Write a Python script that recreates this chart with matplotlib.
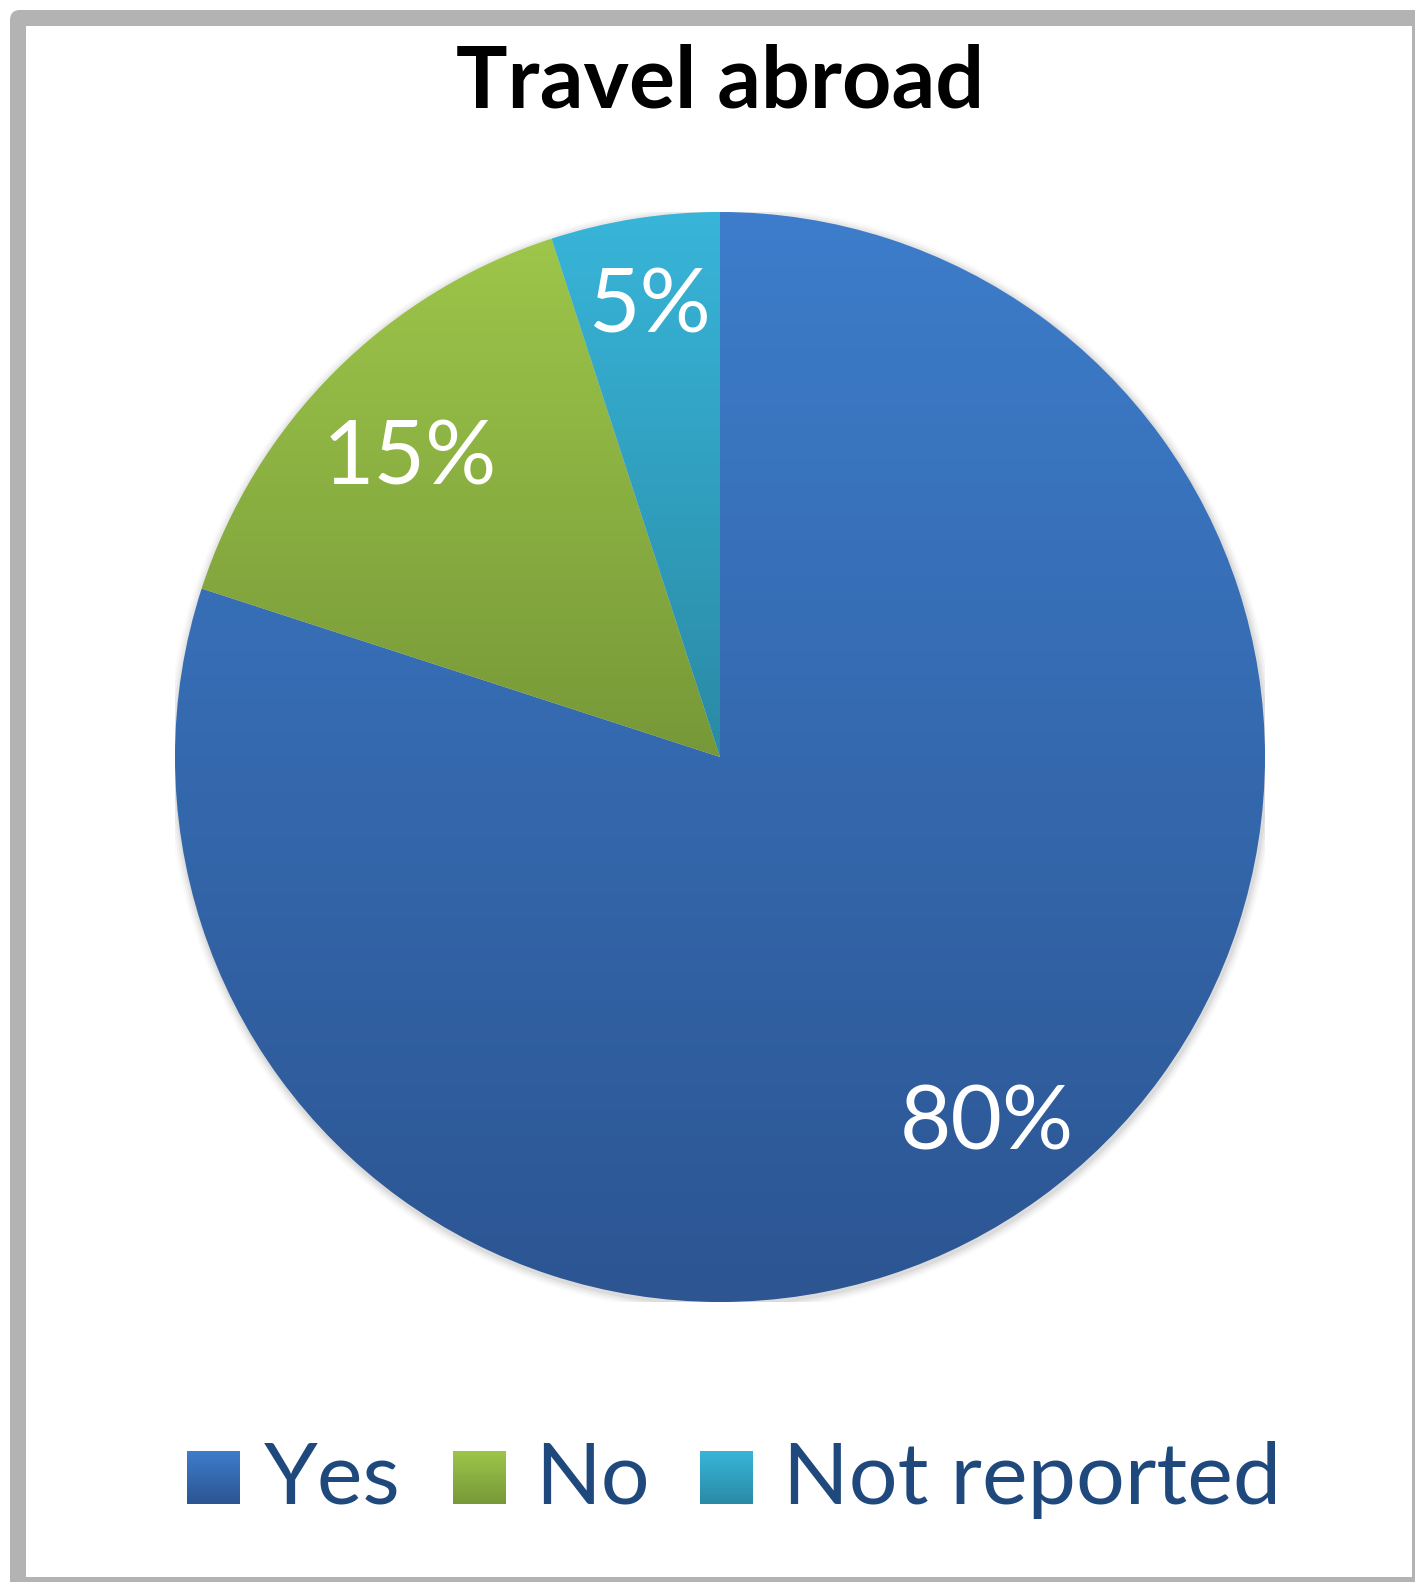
import numpy as np
import matplotlib.pyplot as plt
from matplotlib.colors import LinearSegmentedColormap
from matplotlib.patches import Rectangle, FancyBboxPatch, Circle

title = "Travel abroad"
labels = ["Yes", "No", "Not reported"]
shares = [80, 15, 5]
top_colors = ["#3d7dcb", "#9dc64a", "#38b5d9"]
bottom_colors = ["#2c5592", "#779838", "#2a8aa5"]
text_blue = "#1f497d"

W, H = 1415, 1582
fig = plt.figure(figsize=(W / 100, H / 100), dpi=100)
fig.patch.set_facecolor("white")

# background layer in pixel units (frame + legend)
bg = fig.add_axes([0, 0, 1, 1])
bg.set_xlim(0, W)
bg.set_ylim(H, 0)
bg.axis("off")
bg.add_patch(FancyBboxPatch((10, 10), W + 40, H + 40, boxstyle="round,pad=0,rounding_size=10",
                            facecolor="#b3b3b3", edgecolor="none"))
bg.add_patch(Rectangle((26, 26), W - 3 - 26, H - 5 - 26, facecolor="white", edgecolor="none"))

bg.text(720, 107, title, fontsize=62, fontweight="bold", family="Lato", color="black",
        ha="center", va="baseline")

grad = np.linspace(0, 1, 256).reshape(-1, 1)


def gradient_cmap(i):
    return LinearSegmentedColormap.from_list("g%d" % i, [top_colors[i], bottom_colors[i]])


# legend
box_x = [187, 453, 700]
text_x = [264, 535, 783]
for i, lab in enumerate(labels):
    bg.imshow(grad, cmap=gradient_cmap(i), aspect="auto",
              extent=(box_x[i], box_x[i] + 53, 1504, 1451), zorder=2)
    bg.text(text_x[i], 1504, lab, fontsize=62, family="Lato", color=text_blue,
            ha="left", va="baseline")
bg.set_xlim(0, W)
bg.set_ylim(H, 0)

# pie
cx, cy, r = 720, 757, 545
ax = fig.add_axes([(cx - r) / W, (H - cy - r) / H, 2 * r / W, 2 * r / H])
ax.set_xlim(-1, 1)
ax.set_ylim(-1, 1)
ax.set_aspect("equal")
ax.axis("off")

# soft shadow around the pie
for k, a in enumerate([0.05, 0.04, 0.03, 0.02]):
    ax.add_patch(Circle((0.002, -0.004), 1 + 0.004 * (k + 1), facecolor="black",
                        alpha=a, edgecolor="none", zorder=0))

wedges, _, pcts = ax.pie(shares, startangle=90, counterclock=False, radius=1,
                         autopct="%.0f%%", pctdistance=0.82,
                         wedgeprops=dict(linewidth=0, edgecolor="none"),
                         textprops=dict(color="white", fontsize=64, family="Lato"))

for i, w in enumerate(wedges):
    ext = w.get_path().get_extents(w.get_patch_transform())
    w.set_facecolor("none")
    im = ax.imshow(grad, cmap=gradient_cmap(i), aspect="auto",
                   extent=(ext.x0, ext.x1, ext.y0, ext.y1), zorder=1)
    im.set_clip_path(w)

# nudge the percentage labels onto their baselines
label_pos = [(0.49, -0.72), (-0.57, 0.50), (-0.13, 0.778)]
for t, (px, py) in zip(pcts, label_pos):
    t.set_position((px, py))
    t.set_va("baseline")
    t.set_zorder(5)
ax.set_xlim(-1, 1)
ax.set_ylim(-1, 1)

fig.savefig("out.png", dpi=100)
